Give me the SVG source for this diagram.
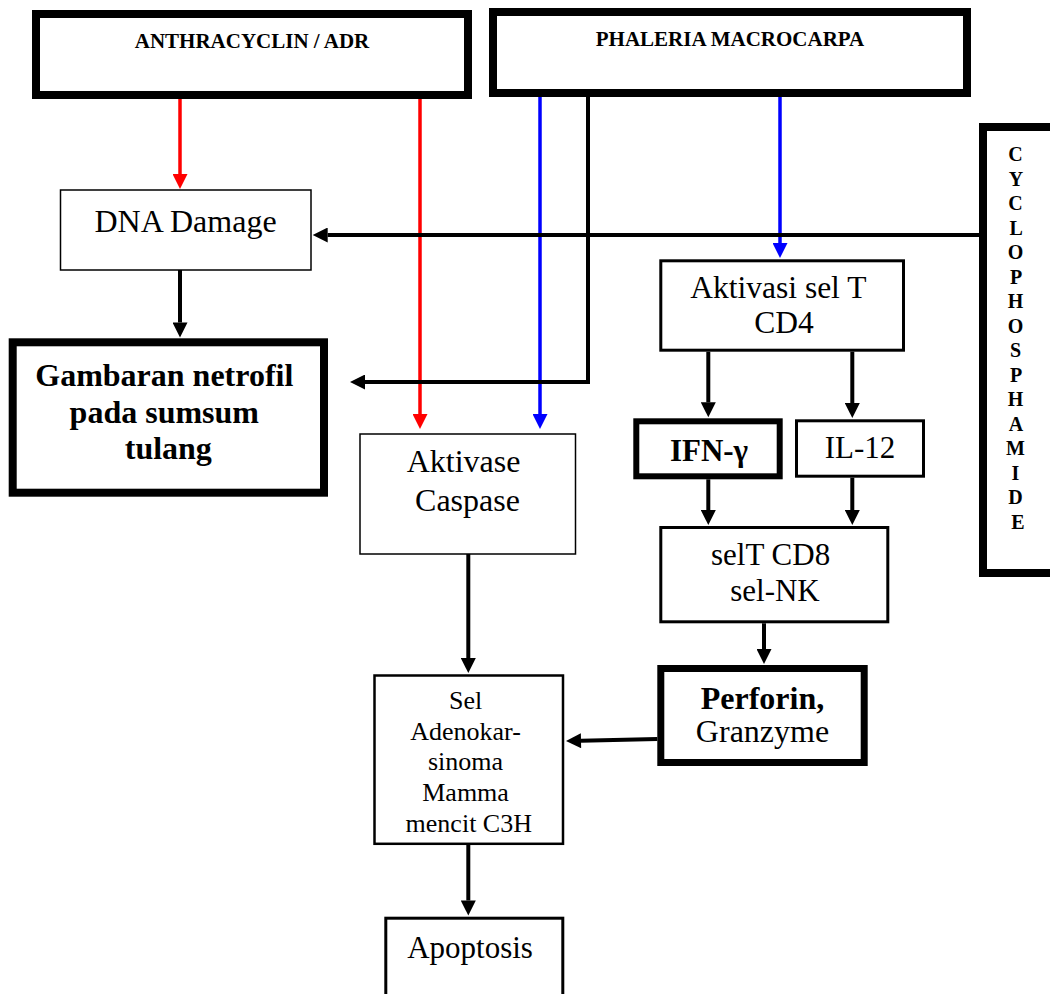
<svg xmlns="http://www.w3.org/2000/svg" width="1050" height="994" viewBox="0 0 1050 994">
<style>
  .box { fill: #ffffff; stroke: #000000; }
  .t { font-family: "Liberation Serif", "Times New Roman", serif; fill: #000000; text-anchor: middle; }
  .b { font-weight: bold; }
  .con { fill: none; stroke-linejoin: miter; }
  .k { stroke: #000000; stroke-width: 4; }
  .r { stroke: #ff0000; stroke-width: 3.5; }
  .u { stroke: #0000ff; stroke-width: 3.5; }
</style>
<defs>
  <marker id="ak" markerUnits="userSpaceOnUse" viewBox="0 0 16 16" refX="0" refY="8" markerWidth="16" markerHeight="15" orient="auto">
    <path d="M0,0 L16,8 L0,16 z" fill="#000000"/>
  </marker>
  <marker id="ar" markerUnits="userSpaceOnUse" viewBox="0 0 16 16" refX="0" refY="8" markerWidth="16" markerHeight="15" orient="auto">
    <path d="M0,0 L16,8 L0,16 z" fill="#ff0000"/>
  </marker>
  <marker id="au" markerUnits="userSpaceOnUse" viewBox="0 0 16 16" refX="0" refY="8" markerWidth="16" markerHeight="15" orient="auto">
    <path d="M0,0 L16,8 L0,16 z" fill="#0000ff"/>
  </marker>
</defs>
<rect x="0" y="0" width="1050" height="994" fill="#ffffff"/>

<g id="connectors">
  <path class="con r" d="M180,99 V174" marker-end="url(#ar)"/>
  <path class="con r" d="M420,99 V414" marker-end="url(#ar)"/>
  <path class="con u" d="M540,97 V414" marker-end="url(#au)"/>
  <path class="con k" d="M588,97 V382 H365" marker-end="url(#ak)"/>
  <path class="con u" d="M780,97 V243" marker-end="url(#au)"/>
  <path class="con k" d="M979,235 H327.7" marker-end="url(#ak)"/>
  <path class="con k" d="M180,270 V322.5" marker-end="url(#ak)"/>
  <path class="con k" d="M468.3,554 V658" marker-end="url(#ak)"/>
  <path class="con k" d="M468.3,845 V900.5" marker-end="url(#ak)"/>
  <path class="con k" d="M708.3,351.7 V402.3" marker-end="url(#ak)"/>
  <path class="con k" d="M852.3,351.7 V403" marker-end="url(#ak)"/>
  <path class="con k" d="M708.3,479.3 V510" marker-end="url(#ak)"/>
  <path class="con k" d="M852.3,477.7 V510" marker-end="url(#ak)"/>
  <path class="con k" d="M764,623.3 V649" marker-end="url(#ak)"/>
  <path class="con k" d="M657.3,739 L581,740.7" marker-end="url(#ak)"/>
</g>

<g id="anthracyclin">
  <rect class="box" x="36" y="14" width="432" height="81" stroke-width="8"/>
  <text class="t b" x="252" y="48" font-size="21">ANTHRACYCLIN / ADR</text>
</g>

<g id="phaleria">
  <rect class="box" x="493" y="12" width="474" height="81" stroke-width="8"/>
  <text class="t b" x="730" y="46" font-size="21">PHALERIA MACROCARPA</text>
</g>

<g id="cyclophosphamide">
  <rect class="box" x="983" y="127" width="90" height="446" stroke-width="8"/>
  <text class="t b" font-size="20">
    <tspan x="1018" y="161">C</tspan>
    <tspan x="1018" y="185.5">Y</tspan>
    <tspan x="1018" y="210">C</tspan>
    <tspan x="1018" y="234.5">L</tspan>
    <tspan x="1018" y="259">O</tspan>
    <tspan x="1018" y="283.5">P</tspan>
    <tspan x="1018" y="308">H</tspan>
    <tspan x="1018" y="332.5">O</tspan>
    <tspan x="1018" y="357">S</tspan>
    <tspan x="1018" y="381.5">P</tspan>
    <tspan x="1018" y="406">H</tspan>
    <tspan x="1018" y="430.5">A</tspan>
    <tspan x="1018" y="455">M</tspan>
    <tspan x="1018" y="479.5">I</tspan>
    <tspan x="1018" y="504">D</tspan>
    <tspan x="1018" y="528.5">E</tspan>
  </text>
</g>

<g id="dna-damage">
  <rect class="box" x="60.5" y="190" width="250.5" height="80" stroke-width="1.5"/>
  <text class="t" x="185.5" y="232" font-size="32">DNA Damage</text>
</g>

<g id="gambaran">
  <rect class="box" x="12.7" y="342.3" width="311.3" height="150.4" stroke-width="8"/>
  <text class="t b" font-size="32">
    <tspan x="168.3" y="386">Gambaran netrofil</tspan>
    <tspan x="168.3" y="422.5">pada sumsum</tspan>
    <tspan x="168.3" y="459">tulang</tspan>
  </text>
</g>

<g id="aktivase-caspase">
  <rect class="box" x="360" y="434" width="215.5" height="120" stroke-width="1.5"/>
  <text class="t" font-size="32">
    <tspan x="467.5" y="471.7">Aktivase</tspan>
    <tspan x="467.5" y="511">Caspase</tspan>
  </text>
</g>

<g id="aktivasi-cd4">
  <rect class="box" x="660.8" y="260.8" width="242.7" height="89.4" stroke-width="3"/>
  <text class="t" font-size="31.5">
    <tspan x="782" y="298.3">Aktivasi sel T</tspan>
    <tspan x="784" y="333.3">CD4</tspan>
  </text>
</g>

<g id="ifn-gamma">
  <rect class="box" x="636.3" y="421.3" width="143.4" height="55" stroke-width="6"/>
  <text class="t b" x="709" y="461" font-size="31">IFN-γ</text>
</g>

<g id="il-12">
  <rect class="box" x="796.5" y="420.8" width="127" height="55.4" stroke-width="3"/>
  <text class="t" x="860" y="458.3" font-size="31">IL-12</text>
</g>

<g id="selt-cd8">
  <rect class="box" x="660.8" y="527.5" width="227" height="94.3" stroke-width="3"/>
  <text class="t" font-size="31">
    <tspan x="774.5" y="565">selT CD8</tspan>
    <tspan x="775" y="600.7">sel-NK</tspan>
  </text>
</g>

<g id="perforin">
  <rect class="box" x="660.8" y="668.5" width="203.4" height="94" stroke-width="7"/>
  <text class="t b" x="762.5" y="709.3" font-size="32">Perforin,</text>
  <text class="t" x="762.5" y="741.7" font-size="32">Granzyme</text>
</g>

<g id="sel-adenokarsinoma">
  <rect class="box" x="374.5" y="675.5" width="188.5" height="168.3" stroke-width="2.5"/>
  <text class="t" font-size="26">
    <tspan x="468.8" y="709">Sel</tspan>
    <tspan x="468.8" y="739.5">Adenokar-</tspan>
    <tspan x="468.8" y="770">sinoma</tspan>
    <tspan x="468.8" y="800.5">Mamma</tspan>
    <tspan x="468.8" y="831.5">mencit C3H</tspan>
  </text>
</g>

<g id="apoptosis">
  <rect class="box" x="385.8" y="918.2" width="177" height="100" stroke-width="3"/>
  <text class="t" x="470" y="958.3" font-size="31">Apoptosis</text>
</g>
</svg>
